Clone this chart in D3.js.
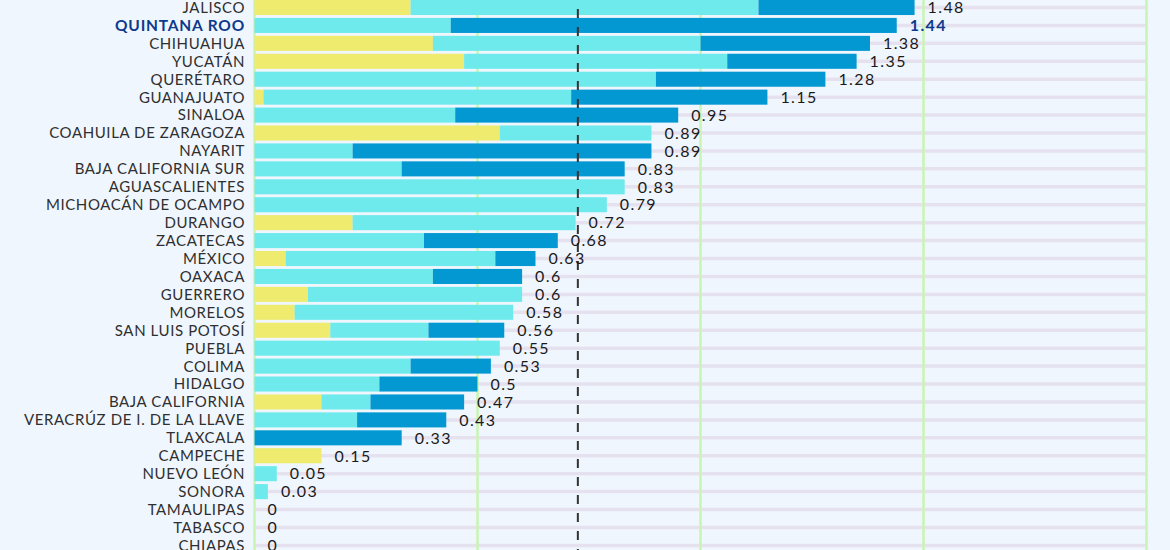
<!DOCTYPE html>
<html><head><meta charset="utf-8">
<script src="https://cdn.jsdelivr.net/npm/d3@7"></script>
<style>
html,body{margin:0;padding:0;background:#f0f6fd;}
svg{display:block;}
</style></head>
<body><svg id="c" width="1170" height="550"></svg>
<script>
const states = ["JALISCO","QUINTANA ROO","CHIHUAHUA","YUCATÁN","QUERÉTARO","GUANAJUATO","SINALOA","COAHUILA DE ZARAGOZA","NAYARIT","BAJA CALIFORNIA SUR","AGUASCALIENTES","MICHOACÁN DE OCAMPO","DURANGO","ZACATECAS","MÉXICO","OAXACA","GUERRERO","MORELOS","SAN LUIS POTOSÍ","PUEBLA","COLIMA","HIDALGO","BAJA CALIFORNIA","VERACRÚZ DE I. DE LA LLAVE","TLAXCALA","CAMPECHE","NUEVO LEÓN","SONORA","TAMAULIPAS","TABASCO","CHIAPAS"];
const yellowVals = [0.35,0,0.40,0.47,0,0.02,0,0.55,0,0,0,0,0.22,0,0.07,0,0.12,0.09,0.17,0,0,0,0.15,0,0,0.15,0,0,0,0,0];
const cyanVals   = [0.78,0.44,0.60,0.59,0.90,0.69,0.45,0.34,0.22,0.33,0.83,0.79,0.50,0.38,0.47,0.40,0.48,0.49,0.22,0.55,0.35,0.28,0.11,0.23,0,0,0.05,0.03,0,0,0];
const blueVals   = [0.35,1.00,0.38,0.29,0.38,0.44,0.50,0,0.67,0.50,0,0,0,0.30,0.09,0.20,0,0,0.17,0,0.18,0.22,0.21,0.20,0.33,0,0,0,0,0,0];
const totals     = [1.48,1.44,1.38,1.35,1.28,1.15,0.95,0.89,0.89,0.83,0.83,0.79,0.72,0.68,0.63,0.6,0.6,0.58,0.56,0.55,0.53,0.5,0.47,0.43,0.33,0.15,0.05,0.03,0,0,0];
const xTicks = [0,0.5,1,1.5,2];
const highlight = "QUINTANA ROO";
const refValue = 0.725;

const rows = states.map((s,i)=>({state:s, yellow:yellowVals[i], cyan:cyanVals[i], blue:blueVals[i], total:totals[i]}));
const keys = ["yellow","cyan","blue"];
const colors = {yellow:"#eeeb6f", cyan:"#6eeaec", blue:"#0498d3"};

const svg = d3.select("#c");
const x = d3.scaleLinear().domain([0,2]).range([254.5,1146.5]);
const step = 17.93;
const y = d3.scaleBand().domain(states).range([7.5-step/2, 7.5-step/2+step*states.length]).paddingInner(0.16).paddingOuter(0.08);

// horizontal category stripes
svg.append("g").selectAll("line").data(states).join("line")
  .attr("x1",x(0)).attr("x2",x(2))
  .attr("y1",d=>y(d)+y.bandwidth()/2).attr("y2",d=>y(d)+y.bandwidth()/2)
  .attr("stroke","#e5e1ef").attr("stroke-width",3.5);

// vertical gridlines
svg.append("g").selectAll("line").data(xTicks).join("line")
  .attr("x1",d=>x(d)).attr("x2",d=>x(d)).attr("y1",0).attr("y2",550)
  .attr("stroke","#c9f5b3").attr("stroke-width",2.5);

// stacked bars
const stack = d3.stack().keys(keys)(rows);
svg.append("g").selectAll("g").data(stack).join("g")
  .attr("fill",d=>colors[d.key])
  .selectAll("rect").data(d=>d).join("rect")
  .attr("x",d=>x(d[0])).attr("width",d=>Math.max(0,x(d[1])-x(d[0])))
  .attr("y",d=>y(d.data.state)).attr("height",y.bandwidth());

// reference dashed line
svg.append("line").attr("x1",x(refValue)).attr("x2",x(refValue))
  .attr("y1",9).attr("y2",550).attr("stroke","#333").attr("stroke-width",2)
  .attr("stroke-dasharray","9,9");

// category labels
svg.append("g").selectAll("text").data(states).join("text")
  .attr("x",245).attr("y",d=>y(d)+y.bandwidth()/2).attr("dy","0.36em")
  .attr("text-anchor","end")
  .attr("font-family","Lato, 'Noto Sans', sans-serif")
  .attr("font-size",d=>d===highlight?15.5:15)
  .attr("font-weight",d=>d===highlight?700:400)
  .attr("letter-spacing",d=>d===highlight?"0.8px":"0.6px")
  .attr("fill",d=>d===highlight?"#0d3a8c":"#2f2f2f")
  .text(d=>d);

// value labels
svg.append("g").selectAll("text").data(rows).join("text")
  .attr("x",d=>x(d.total)+13).attr("y",d=>y(d.state)+y.bandwidth()/2).attr("dy","0.36em")
  .attr("font-family","Lato, 'Noto Sans', sans-serif")
  .attr("font-size",16)
  .attr("font-weight",d=>d.state===highlight?700:400)
  .attr("fill",d=>d.state===highlight?"#0d3a8c":"#1a1a1a")
  .attr("letter-spacing","1.4px")
  .text(d=>d.total);
</script></body></html>
